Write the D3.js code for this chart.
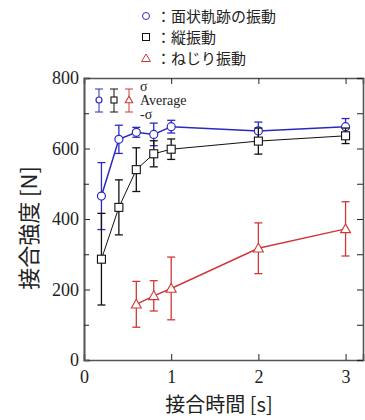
<!DOCTYPE html>
<html>
<head>
<meta charset="utf-8">
<script src="https://cdn.jsdelivr.net/npm/d3@7"></script>
<style>
  body { margin: 0; background: #fff; }
  svg { display: block; }
</style>
</head>
<body>
<div id="chart"></div>
<script>
// bonding time [s] and bonding strength [N] with ±σ
const timesA = [0.2, 0.4, 0.6, 0.8, 1.0, 2.0, 3.0];
const meanA = [465, 626, 646, 640, 662, 650, 662];
const sdA = [95, 40, 14, 32, 18, 25, 23];

const timesB = [0.2, 0.4, 0.6, 0.8, 1.0, 2.0, 3.0];
const meanB = [286, 433, 540, 585, 598, 621, 636];
const sdB = [130, 78, 62, 37, 29, 37, 22];

const timesC = [0.6, 0.8, 1.0, 2.0, 3.0];
const meanC = [158, 182, 203, 317, 372];
const sdC = [65, 43, 89, 72, 77];

const xTicks = [0, 1, 2, 3];
const yTicks = [0, 200, 400, 600, 800];
const yMinor = [100, 300, 500, 700];

const legendLabels = ['：面状軌跡の振動', '：縦振動', '：ねじり振動'];

const width = 365, height = 420;
const margin = { left: 84, right: 2, top: 78, bottom: 60 };

const svg = d3.select('#chart').append('svg')
    .attr('width', width)
    .attr('height', height);

const x = d3.scaleLinear().domain([0, 3.2]).range([margin.left, width - margin.right]);
const y = d3.scaleLinear().domain([0, 800]).range([height - margin.bottom, margin.top]);

const serif = '"Liberation Serif", "Times New Roman", serif';
const cjk = '"Noto Sans CJK JP", "Noto Sans", sans-serif';

// axes with inward ticks on all four sides
const gAx = svg.append('g');
gAx.append('g')
    .attr('transform', `translate(0,${y(0)})`)
    .call(d3.axisBottom(x).tickValues(xTicks).tickSize(-6).tickPadding(10).tickFormat(d3.format('d')));
gAx.append('g')
    .attr('transform', `translate(0,${y(800)})`)
    .call(d3.axisTop(x).tickValues(xTicks).tickSize(-6).tickFormat(''));
gAx.append('g')
    .attr('transform', `translate(${x(0)},0)`)
    .call(d3.axisLeft(y).tickValues(yTicks).tickSize(-6).tickPadding(5));
gAx.append('g')
    .attr('transform', `translate(${x(0)},0)`)
    .call(d3.axisLeft(y).tickValues(yMinor).tickSize(-5).tickFormat(''));
gAx.append('g')
    .attr('transform', `translate(${x(3.2)},0)`)
    .call(d3.axisRight(y).tickValues(yTicks.concat(yMinor)).tickSize(-6).tickFormat(''));

gAx.selectAll('g').attr('font-family', null).attr('font-size', null);
gAx.selectAll('.domain').attr('stroke', '#555').attr('stroke-width', 1.6);
gAx.selectAll('.tick line').attr('stroke', '#222');
gAx.selectAll('.tick text')
    .style('font-family', serif)
    .style('font-size', '18px')
    .attr('fill', '#222');

// axis titles
svg.append('text')
    .attr('x', 219).attr('y', 412)
    .attr('text-anchor', 'middle')
    .style('font-family', cjk)
    .style('font-size', '20px')
    .attr('fill', '#222')
    .text('接合時間 [s]');

svg.append('text')
    .attr('transform', 'translate(37,228) rotate(-90)')
    .attr('text-anchor', 'middle')
    .style('font-family', cjk)
    .style('font-size', '22px')
    .attr('fill', '#222')
    .text('接合強度 [N]');

const series = [
    { t: timesA, m: meanA, s: sdA, color: '#2a2ac0', shape: 'circle', lw: 1.5 },
    { t: timesB, m: meanB, s: sdB, color: '#111', shape: 'square', lw: 1 },
    { t: timesC, m: meanC, s: sdC, color: '#d03838', shape: 'triangle', lw: 1.5 }
];

function drawMarker(g, shape, cx, cy, color, k) {
    if (shape === 'circle') {
        g.append('circle').attr('cx', cx).attr('cy', cy).attr('r', 4 * k)
            .attr('fill', '#fff').attr('stroke', color).attr('stroke-width', 1.2);
    } else if (shape === 'square') {
        const h = 4 * k;
        g.append('rect').attr('x', cx - h).attr('y', cy - h).attr('width', 2 * h).attr('height', 2 * h)
            .attr('fill', '#fff').attr('stroke', color).attr('stroke-width', 1.1);
    } else {
        const h = 5 * k;
        g.append('path')
            .attr('d', `M${cx},${cy - h}L${cx + h},${cy + 0.75 * h}L${cx - h},${cy + 0.75 * h}Z`)
            .attr('fill', '#fff').attr('stroke', color).attr('stroke-width', 1.1);
    }
}

function errorBar(g, cx, yTop, yBot, color, w) {
    g.append('line').attr('x1', cx).attr('x2', cx).attr('y1', yTop).attr('y2', yBot)
        .attr('stroke', color).attr('stroke-width', w);
    [yTop, yBot].forEach(v => {
        g.append('line').attr('x1', cx - 4).attr('x2', cx + 4).attr('y1', v).attr('y2', v)
            .attr('stroke', color).attr('stroke-width', w);
    });
}

const line = d3.line().x(d => x(d[0])).y(d => y(d[1]));

for (const sr of series) {
    const g = svg.append('g');
    const pts = sr.t.map((t, i) => [t, sr.m[i], sr.s[i]]);
    pts.forEach(p => errorBar(g, x(p[0]), y(p[1] + p[2]), y(p[1] - p[2]), sr.color, 1.3));
    g.append('path').datum(pts).attr('d', line)
        .attr('fill', 'none').attr('stroke', sr.color).attr('stroke-width', sr.lw);
    pts.forEach(p => drawMarker(g, sr.shape, x(p[0]), y(p[1]), sr.color, 1));
}

// inner legend: average and ±σ
const lg = svg.append('g');
series.forEach((sr, i) => {
    const cx = 99 + i * 15;
    errorBar(lg, cx, 89, 112, sr.color, 1);
    drawMarker(lg, sr.shape, cx, 100, sr.color, 0.75);
});
[['σ', 91], ['Average', 105], ['-σ', 119]].forEach(([txt, ty]) => {
    lg.append('text').attr('x', 140).attr('y', ty)
        .style('font-family', serif).style('font-size', '14px').attr('fill', '#222')
        .text(txt);
});

// top legend
const tl = svg.append('g');
series.forEach((sr, i) => {
    const cy = 16 + i * 21;
    const mg = tl.append('g');
    if (sr.shape === 'circle') {
        mg.append('circle').attr('cx', 146).attr('cy', cy).attr('r', 3.5)
            .attr('fill', 'none').attr('stroke', sr.color).attr('stroke-width', 1);
    } else if (sr.shape === 'square') {
        mg.append('rect').attr('x', 142.5).attr('y', cy - 3.5).attr('width', 7).attr('height', 7)
            .attr('fill', 'none').attr('stroke', sr.color).attr('stroke-width', 1);
    } else {
        mg.append('path').attr('d', `M146,${cy - 4}L150.5,${cy + 3.5}L141.5,${cy + 3.5}Z`)
            .attr('fill', 'none').attr('stroke', sr.color).attr('stroke-width', 1);
    }
    tl.append('text').attr('x', 156).attr('y', cy + 5.5)
        .style('font-family', cjk).style('font-size', '15px').attr('fill', '#222')
        .text(legendLabels[i]);
});
</script>
</body>
</html>
